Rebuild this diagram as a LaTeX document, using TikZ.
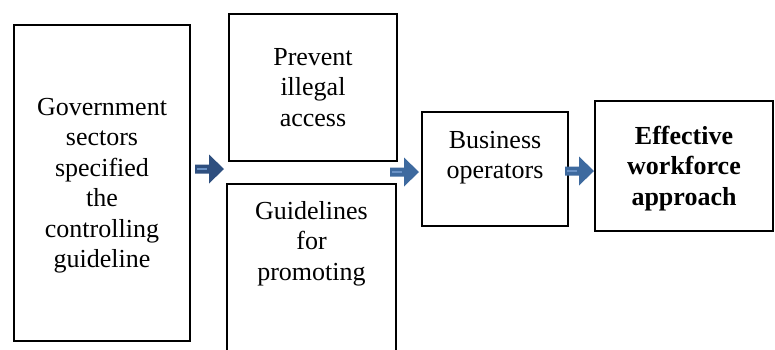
\documentclass[tikz,border=0pt]{standalone}
\usepackage{fontspec}
\setmainfont{Liberation Serif}
\usetikzlibrary{positioning}

\definecolor{arrowdark}{HTML}{2E4F7F}
\definecolor{arrowmid}{HTML}{3E6A9F}
\definecolor{arrowshine}{HTML}{6A92C6}

\tikzset{
  box/.style = {draw, line width = 2.2pt, outer sep = 0, inner sep = 0,
                align = center, font = \fontsize{26}{30.5}\selectfont},
  txt/.style = {inner sep = 0, align = center, font = \fontsize{26}{30.5}\selectfont},
  pics/flow arrow/.style = {code = {
      \fill [#1] (0, -4.5) -- (14, -4.5) -- (14, -14.5) -- (29, 0)
                 -- (14, 14.5) -- (14, 4.5) -- (0, 4.5) -- cycle;
      \draw [arrowshine, line width = 2.4pt] (2, 0) -- (12, 0);
  }}
}

\begin{document}
\begin{tikzpicture}[x = 1pt, y = -1pt]
  \clip (0, 0) rectangle (775, 349);

  % boxes
  \node [box, minimum width = 176, minimum height = 316] (gov) at (102, 183)
        {\rule{0pt}{23pt}Government\\sectors\\specified\\the\\controlling\\guideline};
  \node [box, minimum width = 168, minimum height = 147] (prev) at (313, 87.5)
        {Prevent\\illegal\\access};
  \node [box, minimum width = 169, minimum height = 196] (gui) at (311.5, 282) {};
  \node [box, minimum width = 146, minimum height = 114] (bus) at (495, 169) {};
  \node [box, minimum width = 178, minimum height = 130] (eff) at (684, 166)
        {\rule{0pt}{23pt}\bfseries Effective\\\bfseries workforce\\\bfseries approach};

  % texts sitting near the top of their box
  \node [txt, below = 17pt of gui.north] (guiT) {Guidelines\\for\\promoting};
  \node [txt, below = 19pt of bus.north] (busT) {Business\\operators};

  % block arrows
  \pic at (195, 169) {flow arrow = arrowdark};
  \pic at (390, 172) {flow arrow = arrowmid};
  \pic at (565, 171) {flow arrow = arrowmid};
\end{tikzpicture}
\end{document}
